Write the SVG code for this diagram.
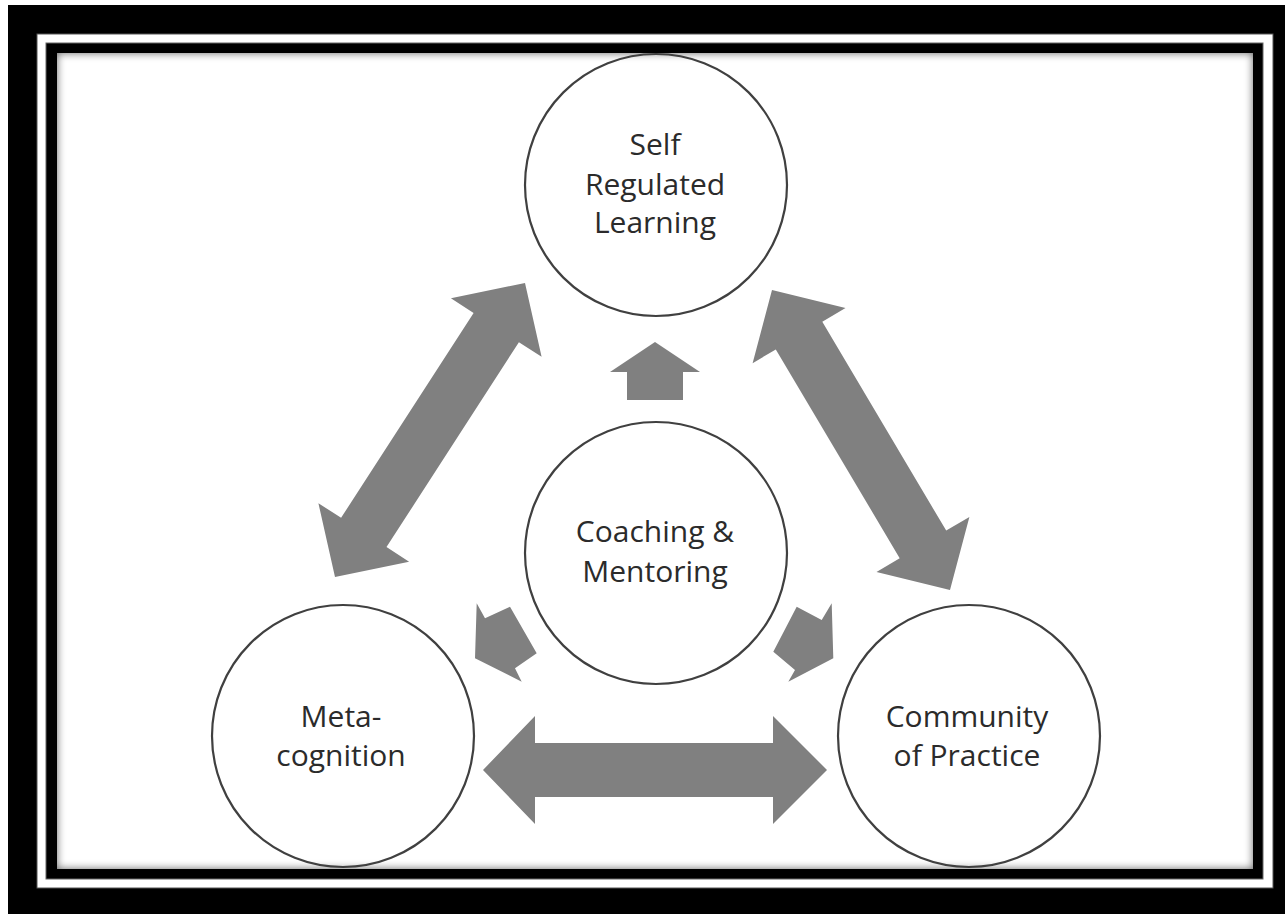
<svg xmlns="http://www.w3.org/2000/svg" width="1285" height="914" viewBox="0 0 1285 914">
<defs>
<style>
.node circle{fill:none;stroke:#404040;stroke-width:2.2}
.node text{font-family:"Open Sans","Noto Sans",sans-serif;font-size:30px;fill:#2b2b2b;text-anchor:middle}
.arrow{fill:#808080;stroke:none}
</style>
<clipPath id="innerClip"><rect x="57" y="53" width="1196" height="816"/></clipPath>
<filter id="soft" x="-5%" y="-5%" width="110%" height="110%"><feGaussianBlur stdDeviation="4"/></filter>
</defs>
<rect x="0" y="0" width="1285" height="914" fill="#ffffff"/>
<rect x="8" y="5" width="1277" height="909" fill="#000000"/>
<rect x="37" y="34" width="1236" height="854" fill="#ffffff" stroke="#555" stroke-width="1"/>
<rect x="46" y="43" width="1217" height="836" fill="#000000" stroke="#666" stroke-width="1"/>
<rect x="57" y="53" width="1196" height="816" fill="#ffffff"/>
<g clip-path="url(#innerClip)">
<rect x="51" y="47" width="1208" height="828" fill="none" stroke="#000" stroke-width="12" filter="url(#soft)" opacity="0.6"/>
</g>
<g id="connectors">
<polygon class="arrow" points="525,283 541.6,356.8 518.9,342.2 386.5,547.1 409.1,561.8 335,577 318.4,503.2 341.1,517.8 473.6,312.9 450.9,298.2"/>
<polygon class="arrow" points="772,290 845.5,308 822.3,321.8 946.2,530.6 969.4,516.9 950,590 876.5,572 899.7,558.2 775.8,349.4 752.6,363.2"/>
<polygon class="arrow" points="483,770 535,716 535,743 773,743 773,716 827,770 773,824 773,797 535,797 535,824"/>
<polygon class="arrow" points="655,342 700,372 683,372 683,400 627,400 627,372 610,372"/>
<polygon class="arrow" points="476.7,603.3 485,618.3 510,606.7 536.7,653.3 515,668.3 521.7,681.7 475,658.3"/>
<polygon class="arrow" points="831.7,603.3 821.7,620 796.7,606.7 773.3,651.7 795,670 788.3,681.7 833.3,658.3"/>
</g>
<g id="node-srl" class="node">
<circle cx="656" cy="185" r="131"/>
<text x="655" y="155">Self</text>
<text x="655" y="195">Regulated</text>
<text x="655" y="233">Learning</text>
</g>
<g id="node-cm" class="node">
<circle cx="656" cy="553" r="131"/>
<text x="655" y="542">Coaching &amp;</text>
<text x="655" y="582">Mentoring</text>
</g>
<g id="node-meta" class="node">
<circle cx="343" cy="736" r="131"/>
<text x="341" y="727">Meta-</text>
<text x="341" y="766">cognition</text>
</g>
<g id="node-cop" class="node">
<circle cx="969" cy="736" r="131"/>
<text x="967" y="727">Community</text>
<text x="967" y="766">of Practice</text>
</g>
</svg>
